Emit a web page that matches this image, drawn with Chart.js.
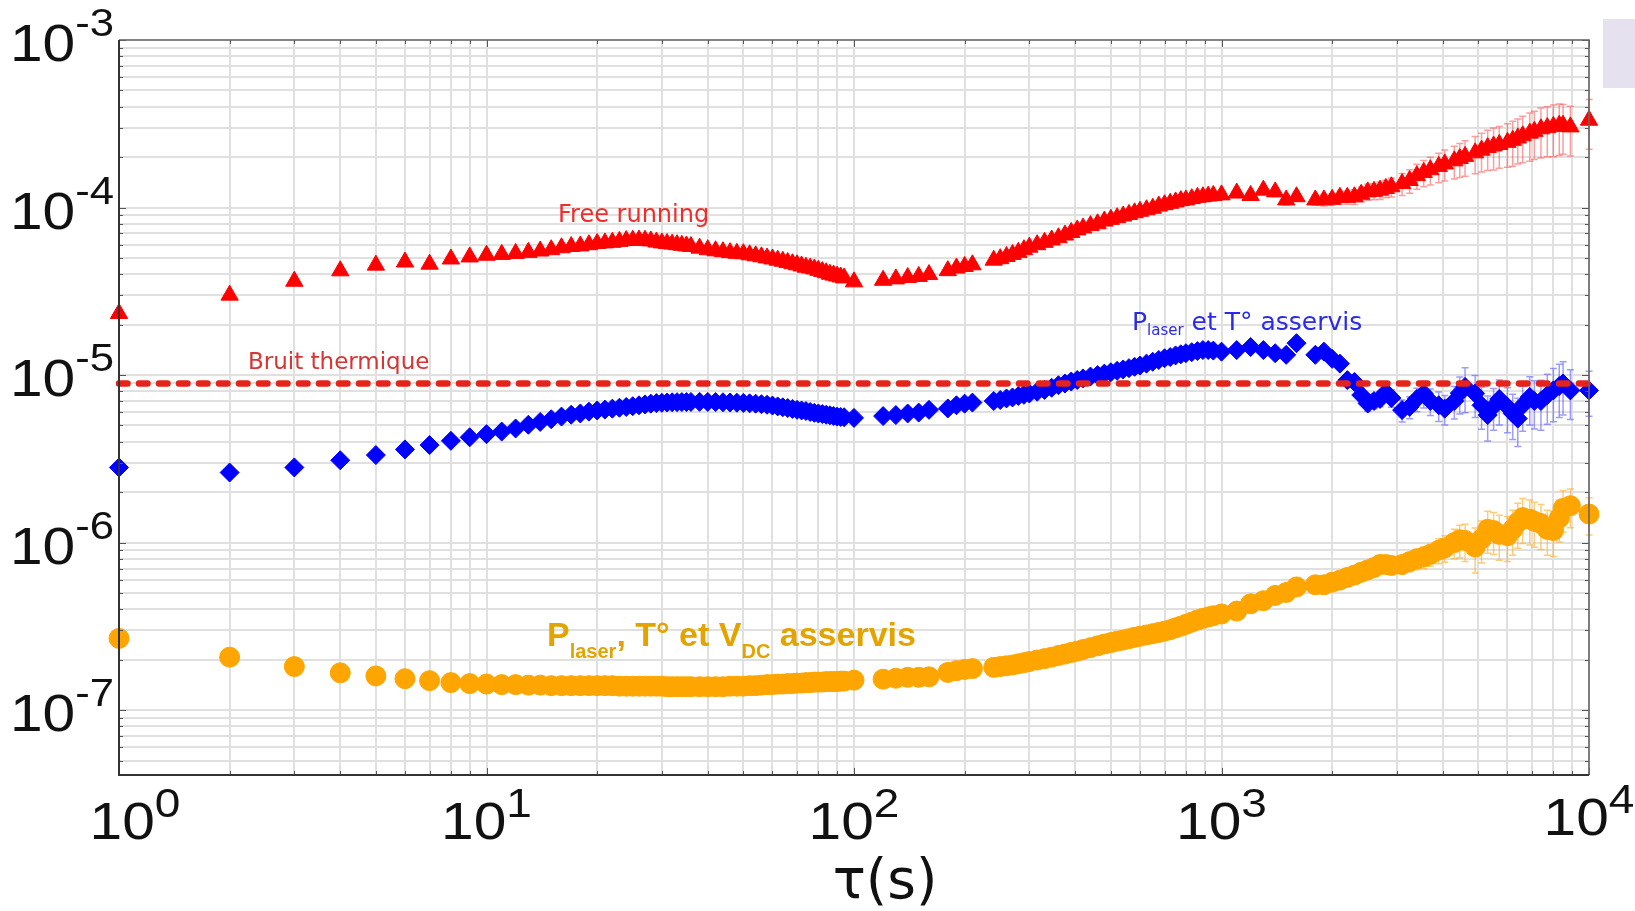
<!DOCTYPE html>
<html>
<head>
<meta charset="utf-8">
<script src="https://cdn.jsdelivr.net/npm/chart.js@4.4.1/dist/chart.umd.min.js"></script>
<style>
  html, body { margin: 0; padding: 0; background: #fff; }
  #wrap { position: relative; width: 1635px; height: 911px; }
  #tab { position: absolute; left: 1603px; top: 19px; width: 32px; height: 69px; background: #e6e1ee; }
</style>
</head>
<body>
<div id="wrap">
  <canvas id="adev" width="1635" height="911"></canvas>
  <div id="tab"></div>
</div>
<script>
// Allan deviation vs averaging time tau (s)
const tau = [
  1, 2, 3, 4, 5, 6, 7, 8, 9, 10, 11, 12, 13, 14, 15, 16, 17, 18, 19, 20,
  21, 22, 23, 24, 25, 26, 27, 28, 29, 30, 31, 32, 33, 34, 35, 36,
  38, 40, 42, 44, 46, 48, 50, 52, 54, 56, 58, 60, 62, 64, 66, 68, 70, 72, 74, 76, 78, 80, 82, 84, 86, 88, 90, 92, 94,
  100,
  120, 130, 140, 150, 160,
  180, 190, 200, 210,
  240, 250, 260, 270, 280, 290, 300,
  315, 330, 345, 360, 375, 390, 405, 420,
  440, 460, 480, 500, 520, 540, 560, 580, 600,
  625, 650, 675, 700, 725, 750, 775, 800,
  830, 860, 890, 920, 950,
  1000, 1100, 1200, 1300, 1400, 1500, 1600,
  1800, 1900, 2000, 2100, 2200, 2300, 2400, 2500, 2600, 2700, 2800, 2900, 3100, 3250, 3400, 3550, 3700, 3900, 4050, 4300,
  4450, 4600, 4900, 5100, 5300, 5500, 5700, 6000, 6200, 6400, 6600, 6900, 7100, 7400, 7700, 8000, 8300, 8500, 8900, 10000
];

const freeRunning = [
  2.33e-5, 3.0e-5, 3.63e-5, 4.19e-5, 4.53e-5, 4.73e-5, 4.59e-5, 4.93e-5, 5.07e-5, 5.19e-5, 5.25e-5, 5.32e-5, 5.4e-5, 5.5e-5, 5.6e-5, 5.75e-5, 5.85e-5, 5.9e-5, 6.0e-5, 6.1e-5,
  6.15e-5, 6.2e-5, 6.28e-5, 6.35e-5, 6.38e-5, 6.4e-5, 6.38e-5, 6.32e-5, 6.22e-5, 6.15e-5, 6.1e-5, 6.05e-5, 6.0e-5, 5.95e-5, 5.9e-5, 5.85e-5,
  5.72e-5, 5.6e-5, 5.52e-5, 5.45e-5, 5.38e-5, 5.33e-5, 5.3e-5, 5.22e-5, 5.15e-5, 5.08e-5, 5.0e-5, 4.93e-5, 4.85e-5, 4.78e-5, 4.7e-5, 4.62e-5, 4.55e-5, 4.48e-5, 4.4e-5, 4.35e-5, 4.3e-5, 4.22e-5, 4.15e-5, 4.08e-5, 4.0e-5, 3.95e-5, 3.9e-5, 3.85e-5, 3.8e-5,
  3.6e-5,
  3.68e-5, 3.75e-5, 3.82e-5, 3.88e-5, 3.98e-5,
  4.2e-5, 4.35e-5, 4.45e-5, 4.55e-5,
  4.85e-5, 4.95e-5, 5.1e-5, 5.25e-5, 5.4e-5, 5.6e-5, 5.8e-5,
  6.0e-5, 6.2e-5, 6.4e-5, 6.6e-5, 6.85e-5, 7.1e-5, 7.35e-5, 7.55e-5,
  7.8e-5, 8.0e-5, 8.3e-5, 8.5e-5, 8.7e-5, 8.9e-5, 9.1e-5, 9.3e-5, 9.5e-5,
  9.7e-5, 9.9e-5, 1.02e-4, 1.04e-4, 1.06e-4, 1.08e-4, 1.1e-4, 1.11e-4,
  1.13e-4, 1.15e-4, 1.16e-4, 1.17e-4, 1.18e-4,
  1.19e-4, 1.22e-4, 1.18e-4, 1.27e-4, 1.24e-4, 1.11e-4, 1.16e-4,
  1.11e-4, 1.11e-4, 1.12e-4, 1.15e-4, 1.15e-4, 1.16e-4, 1.2e-4, 1.24e-4, 1.25e-4, 1.27e-4, 1.3e-4, 1.33e-4, 1.39e-4, 1.45e-4, 1.55e-4, 1.62e-4, 1.68e-4, 1.76e-4, 1.82e-4, 1.9e-4,
  1.96e-4, 2.02e-4, 2.12e-4, 2.2e-4, 2.28e-4, 2.33e-4, 2.38e-4, 2.45e-4, 2.52e-4, 2.6e-4, 2.68e-4, 2.78e-4, 2.85e-4, 2.95e-4, 3.0e-4, 3.05e-4, 3.1e-4, 3.1e-4, 3.03e-4, 3.32e-4
];

const laserTemp = [
  2.81e-6, 2.62e-6, 2.81e-6, 3.1e-6, 3.33e-6, 3.6e-6, 3.82e-6, 4.05e-6, 4.25e-6, 4.44e-6, 4.6e-6, 4.8e-6, 5.05e-6, 5.25e-6, 5.45e-6, 5.65e-6, 5.8e-6, 5.9e-6, 6.05e-6, 6.15e-6,
  6.22e-6, 6.3e-6, 6.38e-6, 6.45e-6, 6.52e-6, 6.6e-6, 6.68e-6, 6.75e-6, 6.8e-6, 6.83e-6, 6.86e-6, 6.88e-6, 6.89e-6, 6.9e-6, 6.9e-6, 6.91e-6,
  6.92e-6, 6.91e-6, 6.9e-6, 6.88e-6, 6.86e-6, 6.84e-6, 6.82e-6, 6.78e-6, 6.75e-6, 6.7e-6, 6.65e-6, 6.58e-6, 6.5e-6, 6.42e-6, 6.35e-6, 6.28e-6, 6.2e-6, 6.15e-6, 6.1e-6, 6.02e-6, 5.95e-6, 5.9e-6, 5.85e-6, 5.8e-6, 5.75e-6, 5.7e-6, 5.65e-6, 5.62e-6, 5.6e-6,
  5.55e-6,
  5.69e-6, 5.77e-6, 5.9e-6, 5.97e-6, 6.2e-6,
  6.32e-6, 6.6e-6, 6.75e-6, 6.85e-6,
  7.0e-6, 7.1e-6, 7.25e-6, 7.35e-6, 7.5e-6, 7.62e-6, 7.76e-6,
  7.95e-6, 8.15e-6, 8.4e-6, 8.7e-6, 8.9e-6, 9.15e-6, 9.35e-6, 9.55e-6,
  9.8e-6, 1.0e-5, 1.02e-5, 1.04e-5, 1.06e-5, 1.08e-5, 1.1e-5, 1.12e-5, 1.14e-5,
  1.17e-5, 1.2e-5, 1.23e-5, 1.26e-5, 1.28e-5, 1.31e-5, 1.33e-5, 1.35e-5,
  1.37e-5, 1.39e-5, 1.41e-5, 1.41e-5, 1.4e-5,
  1.38e-5, 1.41e-5, 1.47e-5, 1.41e-5, 1.35e-5, 1.32e-5, 1.55e-5,
  1.32e-5, 1.38e-5, 1.25e-5, 1.17e-5, 9.33e-6, 9.1e-6, 7.6e-6, 6.76e-6, 7.0e-6, 7.2e-6, 7.9e-6, 7.3e-6, 6.18e-6, 6.46e-6, 7.2e-6, 7.76e-6, 7.0e-6, 6.6e-6, 6.3e-6, 7.0e-6,
  7.8e-6, 8.5e-6, 7.76e-6, 6.6e-6, 5.77e-6, 6.5e-6, 7.2e-6, 6.46e-6, 5.9e-6, 5.5e-6, 6.6e-6, 7.4e-6, 7.0e-6, 7.0e-6, 7.6e-6, 8.1e-6, 8.6e-6, 8.9e-6, 8.1e-6, 8.1e-6
];

const laserTempVdc = [
  2.68e-7, 2.07e-7, 1.82e-7, 1.67e-7, 1.6e-7, 1.54e-7, 1.5e-7, 1.46e-7, 1.44e-7, 1.43e-7, 1.42e-7, 1.42e-7, 1.41e-7, 1.41e-7, 1.4e-7, 1.4e-7, 1.4e-7, 1.4e-7, 1.4e-7, 1.4e-7,
  1.4e-7, 1.4e-7, 1.39e-7, 1.39e-7, 1.39e-7, 1.39e-7, 1.39e-7, 1.39e-7, 1.39e-7, 1.39e-7, 1.38e-7, 1.38e-7, 1.38e-7, 1.38e-7, 1.38e-7, 1.38e-7,
  1.38e-7, 1.38e-7, 1.38e-7, 1.38e-7, 1.39e-7, 1.39e-7, 1.39e-7, 1.4e-7, 1.4e-7, 1.41e-7, 1.42e-7, 1.42e-7, 1.43e-7, 1.43e-7, 1.44e-7, 1.44e-7, 1.45e-7, 1.45e-7, 1.46e-7, 1.46e-7, 1.47e-7, 1.47e-7, 1.47e-7, 1.48e-7, 1.48e-7, 1.48e-7, 1.48e-7, 1.49e-7, 1.49e-7,
  1.51e-7,
  1.53e-7, 1.55e-7, 1.57e-7, 1.57e-7, 1.58e-7,
  1.68e-7, 1.72e-7, 1.75e-7, 1.77e-7,
  1.8e-7, 1.82e-7, 1.84e-7, 1.86e-7, 1.89e-7, 1.92e-7, 1.95e-7,
  1.99e-7, 2.03e-7, 2.07e-7, 2.12e-7, 2.16e-7, 2.21e-7, 2.25e-7, 2.3e-7,
  2.36e-7, 2.42e-7, 2.48e-7, 2.53e-7, 2.58e-7, 2.62e-7, 2.67e-7, 2.72e-7, 2.76e-7,
  2.81e-7, 2.86e-7, 2.91e-7, 2.96e-7, 3.02e-7, 3.1e-7, 3.17e-7, 3.25e-7,
  3.35e-7, 3.45e-7, 3.53e-7, 3.6e-7, 3.66e-7,
  3.75e-7, 3.9e-7, 4.31e-7, 4.5e-7, 4.84e-7, 5.04e-7, 5.44e-7,
  5.6e-7, 5.6e-7, 5.8e-7, 5.97e-7, 6.2e-7, 6.4e-7, 6.65e-7, 6.87e-7, 7.1e-7, 7.4e-7, 7.4e-7, 7.3e-7, 7.4e-7, 7.7e-7, 8.0e-7, 8.2e-7, 8.5e-7, 9.0e-7, 9.3e-7, 1.0e-6,
  1.04e-6, 1.03e-6, 9.4e-7, 1.05e-6, 1.2e-6, 1.18e-6, 1.12e-6, 1.1e-6, 1.2e-6, 1.32e-6, 1.41e-6, 1.38e-6, 1.34e-6, 1.3e-6, 1.2e-6, 1.18e-6, 1.4e-6, 1.6e-6, 1.66e-6, 1.48e-6
];

// relative error bars, for tau >= errFromTau
const errFromTau = 1000;
const freeRunningErr = [
  0.04, 0.05, 0.05, 0.05, 0.06, 0.07, 0.06,
  0.07, 0.08, 0.08, 0.09, 0.09, 0.1, 0.1, 0.11, 0.11, 0.12, 0.12, 0.13, 0.15, 0.16, 0.17, 0.18, 0.19, 0.2, 0.21, 0.22,
  0.23, 0.24, 0.25, 0.26, 0.27, 0.28, 0.28, 0.29, 0.3, 0.3, 0.31, 0.32, 0.32, 0.33, 0.33, 0.34, 0.34, 0.33, 0.33, 0.33
];
const laserTempErr = [
  0.02, 0.02, 0.02, 0.02, 0.02, 0.02, 0.03,
  0.03, 0.03, 0.04, 0.06, 0.08, 0.08, 0.1, 0.1, 0.1, 0.1, 0.12, 0.12, 0.15, 0.15, 0.16, 0.18, 0.18, 0.2, 0.2, 0.22,
  0.25, 0.3, 0.28, 0.28, 0.3, 0.28, 0.3, 0.3, 0.3, 0.32, 0.3, 0.32, 0.32, 0.33, 0.33, 0.35, 0.35, 0.35, 0.33, 0.3
];
const laserTempVdcErr = [
  0.02, 0.02, 0.02, 0.02, 0.02, 0.03, 0.03,
  0.03, 0.03, 0.03, 0.04, 0.05, 0.05, 0.05, 0.06, 0.06, 0.07, 0.08, 0.09, 0.12, 0.13, 0.14, 0.15, 0.15, 0.17, 0.18, 0.2,
  0.22, 0.25, 0.3, 0.28, 0.28, 0.28, 0.3, 0.3, 0.3, 0.3, 0.3, 0.3, 0.3, 0.3, 0.3, 0.3, 0.28, 0.28, 0.26, 0.25
];

const thermalNoise = 8.9e-6;
const xRange = [1, 1e4];
const yRange = [4.1e-8, 1e-3];
const xDecades = [0, 1, 2, 3, 4];
const yDecades = [-3, -4, -5, -6, -7];

const pairs = (ys) => tau.map((t, i) => ({ x: t, y: ys[i] }));

// grid at 1..9 x 10^n inside the range
function logTicks(min, max) {
  const out = [];
  for (let e = Math.floor(Math.log10(min)); e <= Math.ceil(Math.log10(max)); e++) {
    for (let m = 1; m < 10; m++) {
      const v = m * Math.pow(10, e);
      if (v >= min * 0.999 && v <= max * 1.001) out.push({ value: v, major: m === 1 });
    }
  }
  return out;
}

const LABEL_SX = 1.15;
function wideText(ctx, text, x, y) {
  ctx.save();
  ctx.translate(x, y);
  ctx.scale(LABEL_SX, 1);
  ctx.fillText(text, 0, 0);
  ctx.restore();
}
function wideWidth(ctx, text) {
  return ctx.measureText(text).width * LABEL_SX;
}

// text runs with subscripts: [text, font, dy]
function richText(ctx, runs, x, y, color) {
  ctx.fillStyle = color;
  ctx.textAlign = 'left';
  ctx.textBaseline = 'alphabetic';
  runs.forEach(([t, font, dy]) => {
    ctx.font = font;
    ctx.fillText(t, x, y + dy);
    x += ctx.measureText(t).width;
  });
}

const errorBars = {
  id: 'errorBars',
  beforeDatasetsDraw(chart) {
    const { ctx, scales: { x, y } } = chart;
    const start = tau.indexOf(errFromTau);
    const sets = [
      [freeRunning, freeRunningErr, 'rgba(255, 60, 60, 0.5)'],
      [laserTemp, laserTempErr, 'rgba(60, 60, 255, 0.5)'],
      [laserTempVdc, laserTempVdcErr, 'rgba(255, 170, 30, 0.6)']
    ];
    ctx.save();
    ctx.lineWidth = 1.5;
    sets.forEach(([vals, errs, color]) => {
      ctx.strokeStyle = color;
      errs.forEach((e, k) => {
        const i = start + k;
        const px = x.getPixelForValue(tau[i]);
        const top = y.getPixelForValue(vals[i] * (1 + e));
        const bot = y.getPixelForValue(vals[i] * (1 - e));
        ctx.beginPath();
        ctx.moveTo(px, top); ctx.lineTo(px, bot);
        ctx.moveTo(px - 3.5, top); ctx.lineTo(px + 3.5, top);
        ctx.moveTo(px - 3.5, bot); ctx.lineTo(px + 3.5, bot);
        ctx.stroke();
      });
    });
    ctx.restore();
  }
};

const decorations = {
  id: 'decorations',
  afterDatasetsDraw(chart) {
    const { ctx, chartArea: a, scales: { x, y } } = chart;
    ctx.save();

    // inward tick marks
    ctx.strokeStyle = '#555';
    ctx.lineWidth = 1;
    ctx.beginPath();
    y.ticks.forEach(t => {
      const py = Math.round(y.getPixelForValue(t.value)) + 0.5;
      const len = t.major ? 7 : 4;
      ctx.moveTo(a.left, py); ctx.lineTo(a.left + len, py);
      ctx.moveTo(a.right, py); ctx.lineTo(a.right - len, py);
    });
    x.ticks.forEach(t => {
      const px = Math.round(x.getPixelForValue(t.value)) + 0.5;
      const len = t.major ? 7 : 4;
      ctx.moveTo(px, a.bottom); ctx.lineTo(px, a.bottom - len);
      ctx.moveTo(px, a.top); ctx.lineTo(px, a.top + len);
    });
    ctx.stroke();

    // axes box
    ctx.lineWidth = 1.6;
    ctx.strokeStyle = '#666';
    ctx.beginPath();
    ctx.moveTo(a.left, a.top); ctx.lineTo(a.right, a.top); ctx.lineTo(a.right, a.bottom);
    ctx.stroke();
    ctx.lineWidth = 2;
    ctx.strokeStyle = '#333';
    ctx.beginPath();
    ctx.moveTo(a.left, a.top); ctx.lineTo(a.left, a.bottom); ctx.lineTo(a.right, a.bottom);
    ctx.stroke();

    // decade labels 10^n
    ctx.fillStyle = '#111';
    ctx.textAlign = 'left';
    ctx.textBaseline = 'alphabetic';
    yDecades.forEach(e => {
      const gy = y.getPixelForValue(Math.pow(10, e));
      const sup = String(e);
      ctx.font = '38px "Liberation Sans"';
      const supW = wideWidth(ctx, sup);
      const supX = a.left - 5 - supW;
      wideText(ctx, sup, supX, gy - 4);
      ctx.font = '51px "Liberation Sans"';
      wideText(ctx, '10', supX - wideWidth(ctx, '10'), gy + 21);
    });
    xDecades.forEach((e, i) => {
      const gx = x.getPixelForValue(Math.pow(10, e));
      const sup = String(e);
      ctx.font = '40px "Liberation Sans"';
      const supW = wideWidth(ctx, sup);
      ctx.font = '51px "Liberation Sans"';
      const baseW = wideWidth(ctx, '10');
      let left = gx - (baseW + supW) / 2;
      if (i === 0) left += 16;
      const lift = i === xDecades.length - 1 ? 4 : 0;
      wideText(ctx, '10', left, a.bottom + 64 - lift);
      ctx.font = '40px "Liberation Sans"';
      wideText(ctx, sup, left + baseW, a.bottom + 42 - lift);
    });

    // axis title
    ctx.font = '55px "DejaVu Sans"';
    ctx.textAlign = 'center';
    ctx.fillText('τ(s)', 885, a.bottom + 123);

    // curve annotations
    richText(ctx, [['Free running', '24px "DejaVu Sans"', 0]], 558, 222, '#ef2d2d');
    richText(ctx, [['Bruit thermique', '23px "DejaVu Sans"', 0]], 248, 369, '#d83434');
    richText(ctx, [
      ['P', '25px "DejaVu Sans"', 0],
      ['laser', '15px "DejaVu Sans"', 5],
      [' et T° asservis', '25px "DejaVu Sans"', 0]
    ], 1132, 330, '#2a2ae8');
    richText(ctx, [
      ['P', 'bold 34px "Liberation Sans"', 0],
      ['laser', 'bold 20px "Liberation Sans"', 12],
      [', T° et V', 'bold 34px "Liberation Sans"', 0],
      ['DC', 'bold 20px "Liberation Sans"', 12],
      [' asservis', 'bold 34px "Liberation Sans"', 0]
    ], 547, 646, '#e3a400');

    ctx.restore();
  }
};

const gridStyle = { color: '#e0e0e0', lineWidth: 2, drawTicks: false };

new Chart(document.getElementById('adev'), {
  type: 'scatter',
  data: {
    datasets: [
      {
        label: 'Bruit thermique',
        data: [{ x: xRange[0], y: thermalNoise }, { x: xRange[1], y: thermalNoise }],
        showLine: true,
        borderColor: '#e6231a',
        borderWidth: 6.5,
        borderDash: [8.5, 11.5],
        borderCapStyle: 'round',
        pointRadius: 0,
        order: 0,
        clip: false
      },
      {
        label: 'Free running',
        data: pairs(freeRunning),
        pointStyle: 'triangle',
        pointRadius: 10,
        backgroundColor: '#ff0000',
        borderColor: '#ff0000',
        borderWidth: 1,
        order: 1,
        clip: false
      },
      {
        label: 'Plaser et T° asservis',
        data: pairs(laserTemp),
        pointStyle: 'rectRot',
        pointRadius: 9.5,
        backgroundColor: '#0000ff',
        borderColor: '#0000ff',
        borderWidth: 1,
        order: 2,
        clip: false
      },
      {
        label: 'Plaser, T° et VDC asservis',
        data: pairs(laserTempVdc),
        pointStyle: 'circle',
        pointRadius: 10,
        backgroundColor: '#ffa500',
        borderColor: '#ffa500',
        borderWidth: 1,
        order: 3,
        clip: false
      }
    ]
  },
  options: {
    responsive: false,
    animation: false,
    events: [],
    layout: { padding: { left: 119, top: 40, right: 46, bottom: 136 } },
    plugins: {
      legend: { display: false },
      tooltip: { enabled: false }
    },
    scales: {
      x: {
        type: 'logarithmic',
        min: xRange[0],
        max: xRange[1],
        afterBuildTicks: (s) => { s.ticks = logTicks(xRange[0], xRange[1]); },
        ticks: { display: false },
        grid: gridStyle,
        border: { display: false }
      },
      y: {
        type: 'logarithmic',
        min: yRange[0],
        max: yRange[1],
        afterBuildTicks: (s) => { s.ticks = logTicks(yRange[0], yRange[1]); },
        ticks: { display: false },
        grid: gridStyle,
        border: { display: false }
      }
    }
  },
  plugins: [errorBars, decorations]
});
</script>
</body>
</html>
